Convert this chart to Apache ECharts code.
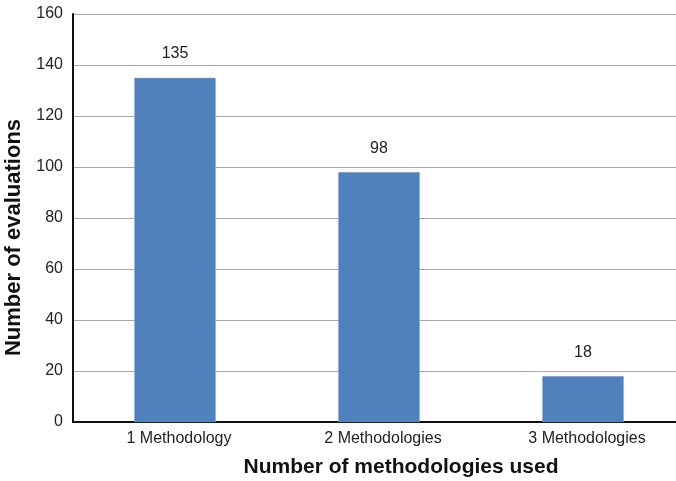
<!DOCTYPE html>
<html>
<head>
<meta charset="utf-8">
<script src="https://cdn.jsdelivr.net/npm/echarts@6/dist/echarts.min.js"></script>
<style>
  html, body { margin: 0; padding: 0; background: #fff; }
  #chart { width: 676px; height: 481px; }
</style>
</head>
<body>
<div id="chart"></div>
<script>
// Evaluations grouped by how many methodologies each one used
const categories = ['1 Methodology', '2 Methodologies', '3 Methodologies'];
const evaluations = [135, 98, 18];
const yTicks = { min: 0, max: 160, interval: 20 };

const chart = echarts.init(document.getElementById('chart'));
chart.setOption({
  animation: false,
  textStyle: { fontFamily: 'Liberation Sans, Arial, sans-serif' },
  // plot area runs slightly past the right edge of the canvas
  grid: { left: 73, right: -9, top: 14, bottom: 59, containLabel: false, outerBoundsMode: 'none' },
  xAxis: {
    type: 'category',
    data: categories,
    name: 'Number of methodologies used',
    nameLocation: 'middle',
    nameGap: 35,
    nameTextStyle: { fontSize: 21, fontWeight: 'bold', color: '#111', padding: [0, 0, 0, 44] },
    axisLine: { lineStyle: { color: '#111', width: 2 } },
    axisTick: { show: false },
    axisLabel: { fontSize: 16, color: '#222', margin: 9, padding: [0, 0, 0, 8] }
  },
  yAxis: {
    type: 'value',
    min: yTicks.min,
    max: yTicks.max,
    interval: yTicks.interval,
    name: 'Number of evaluations',
    nameLocation: 'middle',
    nameGap: 44,
    nameTextStyle: { fontSize: 22, fontWeight: 'bold', color: '#111', padding: [0, 39, 0, 0] },
    axisLine: { show: true, lineStyle: { color: '#111', width: 2 } },
    axisTick: { show: false },
    axisLabel: { fontSize: 16, color: '#222', margin: 10 },
    splitLine: { lineStyle: { color: '#a8a8a8', width: 1 } }
  },
  series: [{
    type: 'bar',
    data: evaluations,
    barWidth: '40%',
    itemStyle: { color: '#4f81bd', borderColor: '#8fb0dc', borderWidth: 0.5 },
    label: {
      show: true,
      position: 'top',
      distance: 16,
      fontSize: 16,
      color: '#222'
    }
  }]
});
</script>
</body>
</html>
